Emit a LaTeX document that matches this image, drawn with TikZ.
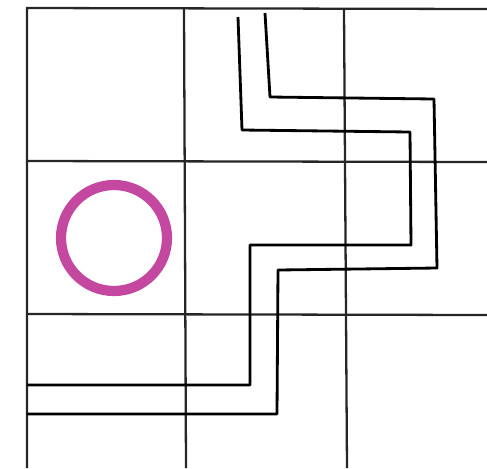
\documentclass[tikz,border=0pt]{standalone}
\usepackage{xcolor}
\definecolor{ringpink}{RGB}{196,72,160}
\begin{document}
\begin{tikzpicture}[x=0.02cm, y=-0.02cm,
    gridline/.style={line width=1.3pt, black!85},
    wire/.style={line width=1.6pt, black, line join=round}]
      \useasboundingbox (0,0) rectangle (487,468);

      % Grid lines
      \draw[gridline] (27,468) -- (27,8) -- (487,9);
      \draw[gridline] (184,8) -- (186,468);
      \draw[gridline] (344,9) -- (347,468);
      \draw[gridline] (27,161) -- (487,162);
      \draw[gridline] (27,314) -- (487,315);

      % Ring in the middle left cell
      \draw[ringpink, line width=5.8pt] (114,238) circle (53);

      % First wire
      \draw[wire] (238,17) -- (242,130) -- (410,132) -- (411,245)
        -- (250,245) -- (250,385) -- (27,385);

      % Second wire
      \draw[wire] (265,13) -- (270,97) -- (434,99) -- (437,268)
        -- (278,270) -- (277,414) -- (27,414);
    \end{tikzpicture}
\end{document}
